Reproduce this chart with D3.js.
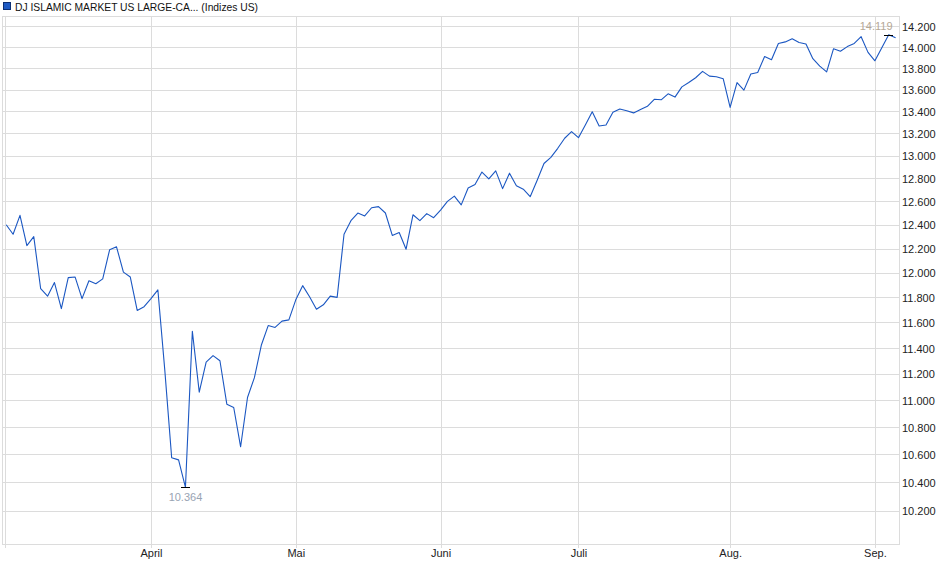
<!DOCTYPE html>
<html>
<head>
<meta charset="utf-8">
<script src="https://cdn.jsdelivr.net/npm/d3@7"></script>
<style>
  html, body { margin: 0; padding: 0; background: #ffffff; }
  svg { display: block; font-family: "Liberation Sans", Arial, sans-serif; }
</style>
</head>
<body>
<svg id="chart" width="940" height="579"></svg>
<script>
// ---------- data ----------
const seriesName = "DJ ISLAMIC MARKET US LARGE-CA... (Indizes US)";

// one closing value per trading day (early March .. early September)
const closeValues = [
  12400, 12320, 12480, 12225, 12300, 11870, 11810, 11920, 11710, 11960,
  11965, 11790, 11935, 11910, 11950, 12190, 12215, 12005, 11965, 11695,
  11725, 11790, 11860, 11230, 10575, 10560, 10364, 11530, 11060, 11290,
  11340, 11300, 10970, 10945, 10655, 11020, 11170, 11420, 11575, 11560,
  11610, 11620, 11780, 11895, 11805, 11705, 11740, 11810, 11800, 12320,
  12435, 12500, 12475, 12545, 12555, 12500, 12310, 12335, 12195, 12485,
  12435, 12495, 12460, 12525, 12600, 12645, 12570, 12715, 12745, 12855,
  12795, 12865, 12710, 12845, 12735, 12705, 12640, 12780, 12930, 12985,
  13065, 13155, 13215, 13160, 13275, 13395, 13265, 13275, 13390, 13420,
  13405, 13385, 13415, 13445, 13510, 13505, 13560, 13530, 13625, 13665,
  13710, 13770, 13725, 13720, 13700, 13435, 13665, 13595, 13745, 13760,
  13910, 13880, 14035, 14050, 14080, 14045, 14030, 13890, 13820, 13765,
  13985, 13960, 14005, 14035, 14100, 13950, 13870, 13995, 14119, 14090
];

// month ticks: label and the trading-day index of the first day of the month
const monthLabels = ["April", "Mai", "Juni", "Juli", "Aug.", "Sep."];
const monthStartIndex = [21, 42, 63, 83, 105, 126];

// y tick values
const yTickValues = [10200, 10400, 10600, 10800, 11000, 11200, 11400, 11600, 11800,
  12000, 12200, 12400, 12600, 12800, 13000, 13200, 13400, 13600, 13800, 14000, 14200];

// ---------- layout ----------
const plot = { left: 2.5, right: 899, top: 16.7, bottom: 544.5 };
const gridColor = "#dcdcdc";
const lineColor = "#1b57c2";

const svg = d3.select("#chart");

const x = d3.scaleLinear()
  .domain([0, closeValues.length - 1])
  .range([6.2, 895.6]);

const y = d3.scaleLog()
  .domain([9967, 14294])
  .range([plot.bottom, plot.top]);

const de = d3.formatLocale({ decimal: ",", thousands: ".", grouping: [3], currency: ["", " €"] });
const fmt = de.format(",.0f");

// ---------- grid ----------
const grid = svg.append("g").attr("shape-rendering", "crispEdges");

grid.selectAll("line.h")
  .data(yTickValues)
  .join("line")
  .attr("class", "h")
  .attr("x1", plot.left).attr("x2", plot.right)
  .attr("y1", d => Math.round(y(d)) + 0.5)
  .attr("y2", d => Math.round(y(d)) + 0.5)
  .attr("stroke", gridColor).attr("stroke-width", 1);

grid.selectAll("line.v")
  .data(monthStartIndex)
  .join("line")
  .attr("class", "v")
  .attr("x1", d => Math.round(x(d)) + 0.5)
  .attr("x2", d => Math.round(x(d)) + 0.5)
  .attr("y1", plot.top).attr("y2", plot.bottom + 3)
  .attr("stroke", gridColor).attr("stroke-width", 1);

// frame
grid.append("rect")
  .attr("x", plot.left).attr("y", plot.top)
  .attr("width", plot.right - plot.left)
  .attr("height", plot.bottom - plot.top)
  .attr("fill", "none").attr("stroke", gridColor).attr("stroke-width", 1);
// second inner left line at first data day
grid.append("line")
  .attr("x1", Math.round(x(0)) - 0.5).attr("x2", Math.round(x(0)) - 0.5)
  .attr("y1", plot.top).attr("y2", plot.bottom + 3)
  .attr("stroke", gridColor).attr("stroke-width", 1);

// ---------- axes ----------
const yAxis = d3.axisRight(y)
  .tickValues(yTickValues)
  .tickFormat(fmt)
  .tickSize(0)
  .tickPadding(0);

const yAxisG = svg.append("g")
  .attr("transform", `translate(${plot.right + 3},0)`)
  .call(yAxis);
yAxisG.select(".domain").remove();
yAxisG.selectAll("text")
  .attr("font-size", 11)
  .attr("font-family", "'Liberation Sans', Arial, sans-serif")
  .attr("fill", "#222")
  .attr("dy", "0.38em");

const xAxis = d3.axisBottom(x)
  .tickValues(monthStartIndex)
  .tickFormat((d, i) => monthLabels[i])
  .tickSize(0)
  .tickPadding(0);

const xAxisG = svg.append("g")
  .attr("transform", `translate(0,${plot.bottom + 4.5})`)
  .call(xAxis);
xAxisG.select(".domain").remove();
xAxisG.selectAll("text")
  .attr("font-size", 11)
  .attr("font-family", "'Liberation Sans', Arial, sans-serif")
  .attr("fill", "#222");

// ---------- line ----------
const line = d3.line()
  .x((d, i) => x(i))
  .y(d => y(d));

svg.append("path")
  .datum(closeValues)
  .attr("d", line)
  .attr("fill", "none")
  .attr("stroke", lineColor)
  .attr("stroke-width", 1.1)
  .attr("stroke-linejoin", "round");

// ---------- min / max markers ----------
const minIdx = d3.minIndex(closeValues);
const maxIdx = d3.maxIndex(closeValues);

function marker(idx, color, below) {
  const cx = x(idx), cy = y(closeValues[idx]);
  svg.append("line")
    .attr("x1", cx - 4.5).attr("x2", cx + 4.5)
    .attr("y1", Math.round(cy) + 0.5).attr("y2", Math.round(cy) + 0.5)
    .attr("stroke", "#000").attr("stroke-width", 1)
    .attr("shape-rendering", "crispEdges");
  const t = svg.append("text")
    .attr("font-size", 11)
    .attr("fill", color)
    .text(fmt(closeValues[idx]));
  if (below) {
    t.attr("x", cx).attr("y", cy + 14).attr("text-anchor", "middle");
  } else {
    t.attr("x", Math.min(cx + 16, plot.right - 6.5)).attr("y", cy - 5).attr("text-anchor", "end");
  }
}
marker(minIdx, "#98a3b3", true);
marker(maxIdx, "#b5a896", false);

// ---------- legend ----------
svg.append("rect")
  .attr("x", 3.5).attr("y", 2.5).attr("width", 7).attr("height", 7)
  .attr("fill", "#1f5bc4").attr("stroke", "#0d2f73").attr("stroke-width", 1)
  .attr("shape-rendering", "crispEdges");
svg.append("text")
  .attr("x", 15).attr("y", 10.5)
  .attr("font-size", 11)
  .attr("textLength", 243)
  .attr("lengthAdjust", "spacingAndGlyphs")
  .attr("fill", "#111")
  .text(seriesName);
</script>
</body>
</html>
